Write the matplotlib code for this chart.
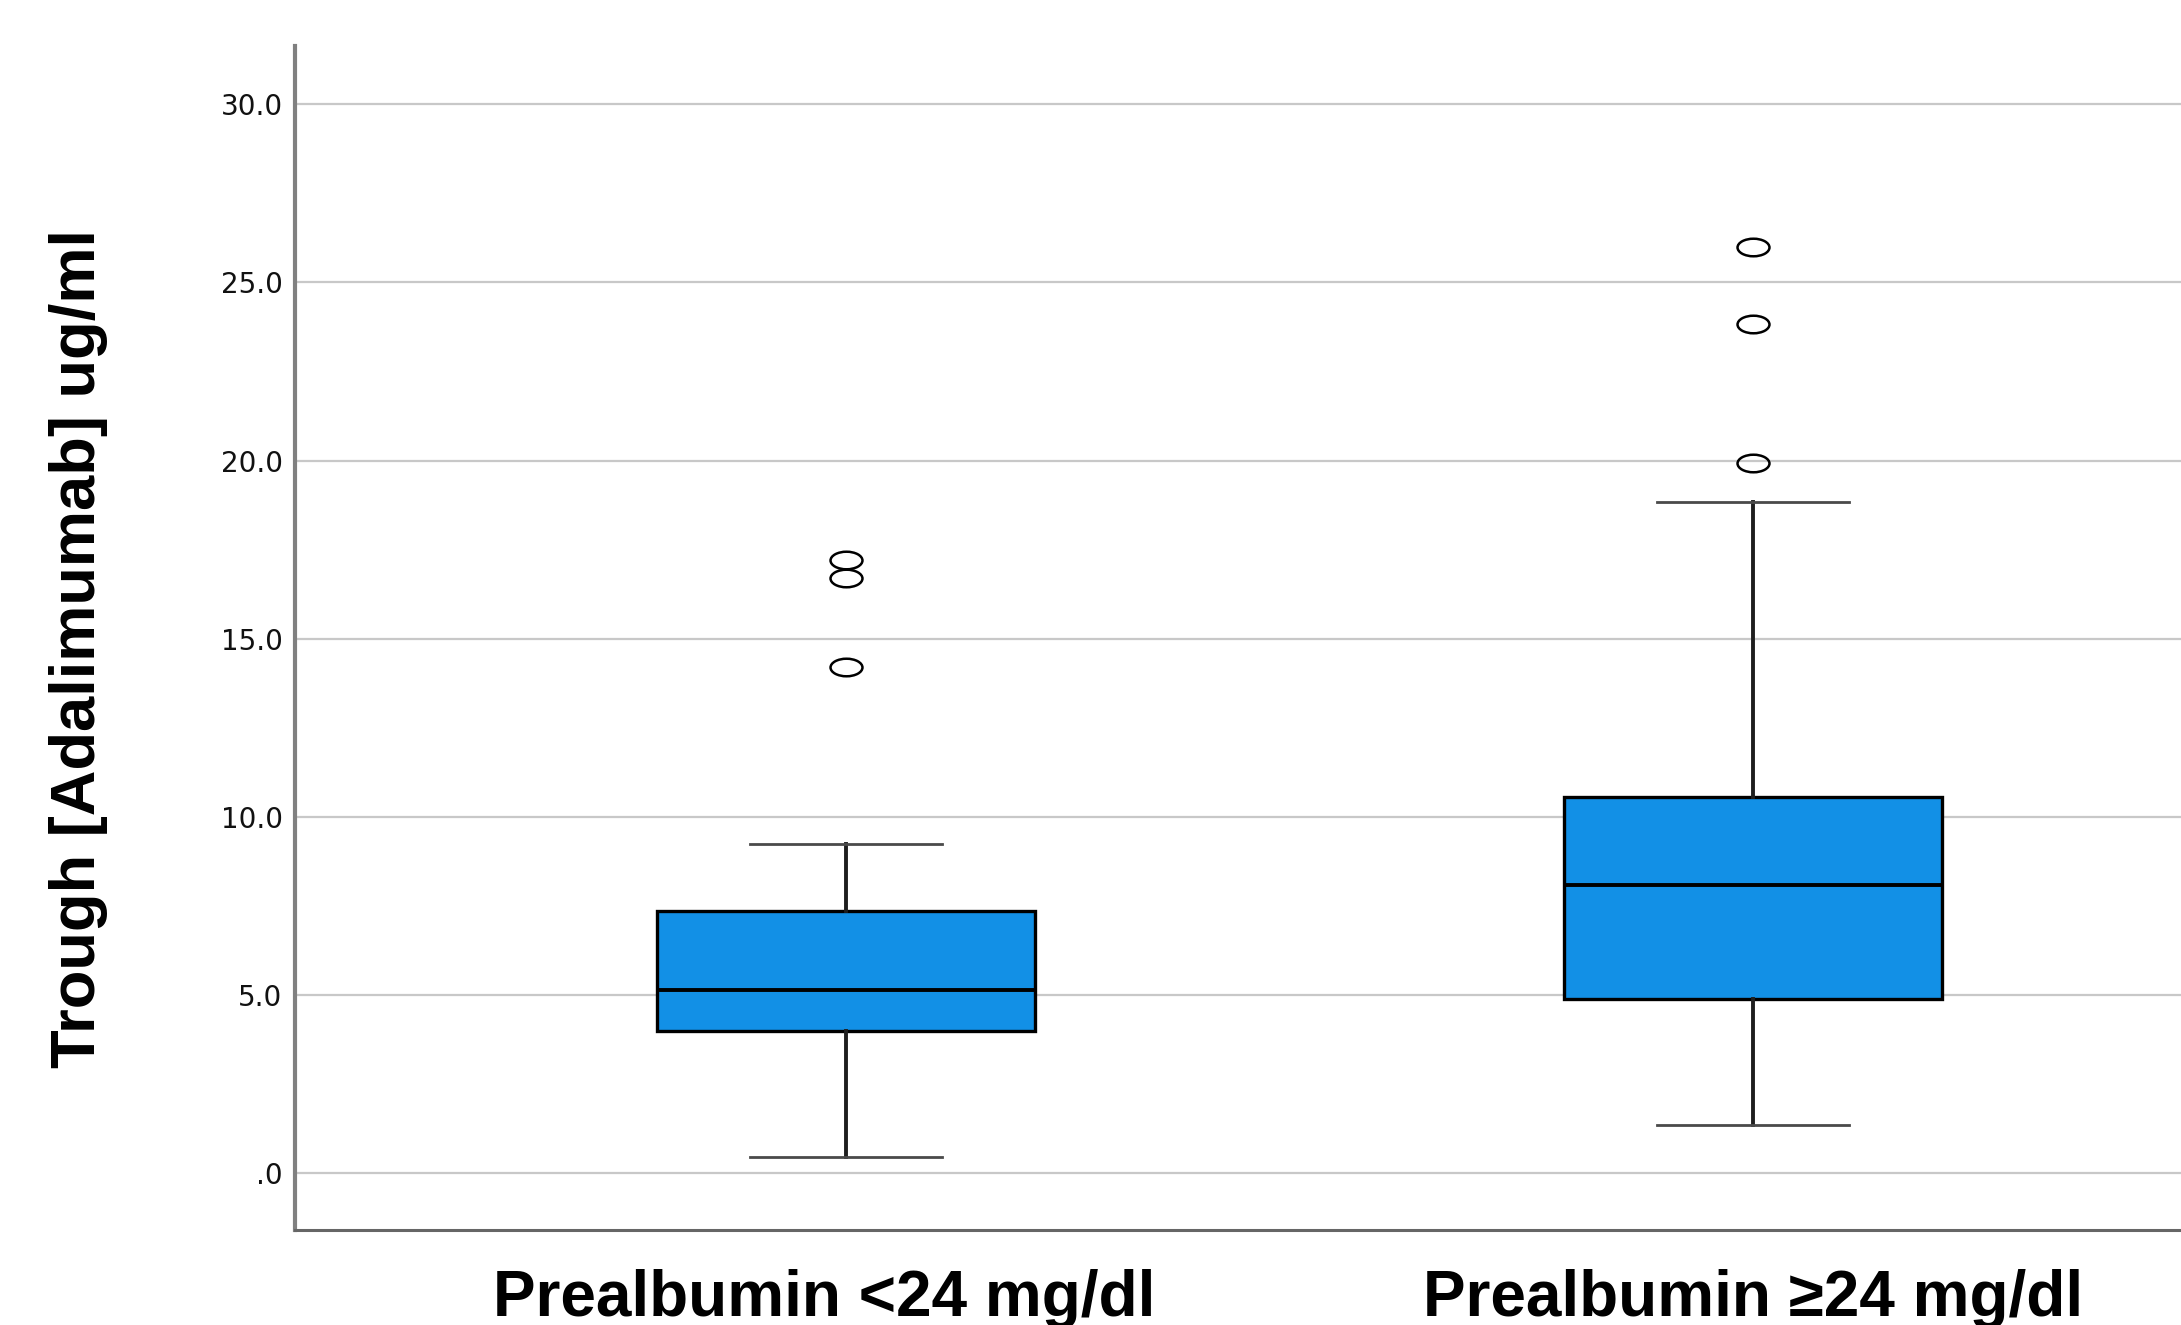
import numpy as np
import matplotlib
matplotlib.use("Agg")
import matplotlib.pyplot as plt
import matplotlib.transforms as mtransforms
from matplotlib.path import Path
from matplotlib.ticker import FuncFormatter

# values (ug/ml)
groups = ["Prealbumin <24 mg/dl", "Prealbumin \u226524 mg/dl"]
q1 = [3.98, 4.88]
median = [5.12, 8.09]
q3 = [7.34, 10.55]
whisker_low = [0.43, 1.33]
whisker_high = [9.22, 18.83]
outliers = [[17.2, 16.7, 14.2], [26.0, 23.83, 19.92]]
y_ticks = [0, 5, 10, 15, 20, 25, 30]

box_color = "#1290e6"

stats = []
for i, g in enumerate(groups):
    stats.append({
        "label": g,
        "q1": q1[i],
        "med": median[i],
        "q3": q3[i],
        "whislo": whisker_low[i],
        "whishi": whisker_high[i],
        "fliers": outliers[i],
    })

# flat open ellipse, like the SPSS outlier marker
circ = Path.unit_circle()
ellipse = Path(circ.vertices * np.array([1.0, 0.55]), circ.codes)

fig = plt.figure(figsize=(21.81, 13.25), dpi=100)
ax = fig.add_axes([0.1353, 0.0719, 0.8647, 0.8934])

ax.bxp(
    stats,
    positions=[1, 2],
    widths=0.417,
    patch_artist=True,
    showfliers=True,
    boxprops=dict(facecolor=box_color, edgecolor="black", linewidth=2.4),
    medianprops=dict(color="black", linewidth=2.8),
    whiskerprops=dict(color="#1e1e1e", linewidth=2.8),
    capprops=dict(color="#4a4a4a", linewidth=2.0),
    capwidths=0.212,
    flierprops=dict(marker=ellipse, markersize=23, markerfacecolor="none",
                    markeredgecolor="black", markeredgewidth=1.8),
    zorder=3,
)

ax.set_xlim(0.393, 2.472)
ax.set_ylim(-1.6, 31.64)

ax.set_yticks(y_ticks)
ax.yaxis.set_major_formatter(FuncFormatter(lambda v, p: ".0" if v == 0 else f"{v:.1f}"))
ax.grid(axis="y", color="#c8c8c8", linewidth=1.6, zorder=0)
ax.set_axisbelow(True)

ax.spines["top"].set_visible(False)
ax.spines["right"].set_visible(False)
ax.spines["left"].set_color("#808080")
ax.spines["left"].set_linewidth(3.0)
ax.spines["bottom"].set_color("#666666")
ax.spines["bottom"].set_linewidth(2.2)

ax.tick_params(axis="y", length=0, pad=9, labelsize=20, labelcolor="#111111")
ax.tick_params(axis="x", length=0, pad=28)
ax.set_xticks([1, 2])
ax.set_xticklabels(groups, fontsize=46, fontweight="bold",
                   family=["Liberation Sans", "DejaVu Sans"])
for lab in ax.get_yticklabels():
    lab.set_family("DejaVu Sans")

# first category label sits a little left of its box in the original
lab0 = ax.get_xticklabels()[0]
lab0.set_transform(lab0.get_transform()
                   + mtransforms.ScaledTranslation(-0.22, 0, fig.dpi_scale_trans))

fig.text(79 / 2181, 1 - 648 / 1325, "Trough [Adalimumab] ug/ml", rotation=90,
         ha="center", va="center", fontsize=45.5, fontweight="bold",
         family=["Liberation Sans", "DejaVu Sans"])

fig.savefig("out.png", dpi=100, facecolor="white")
